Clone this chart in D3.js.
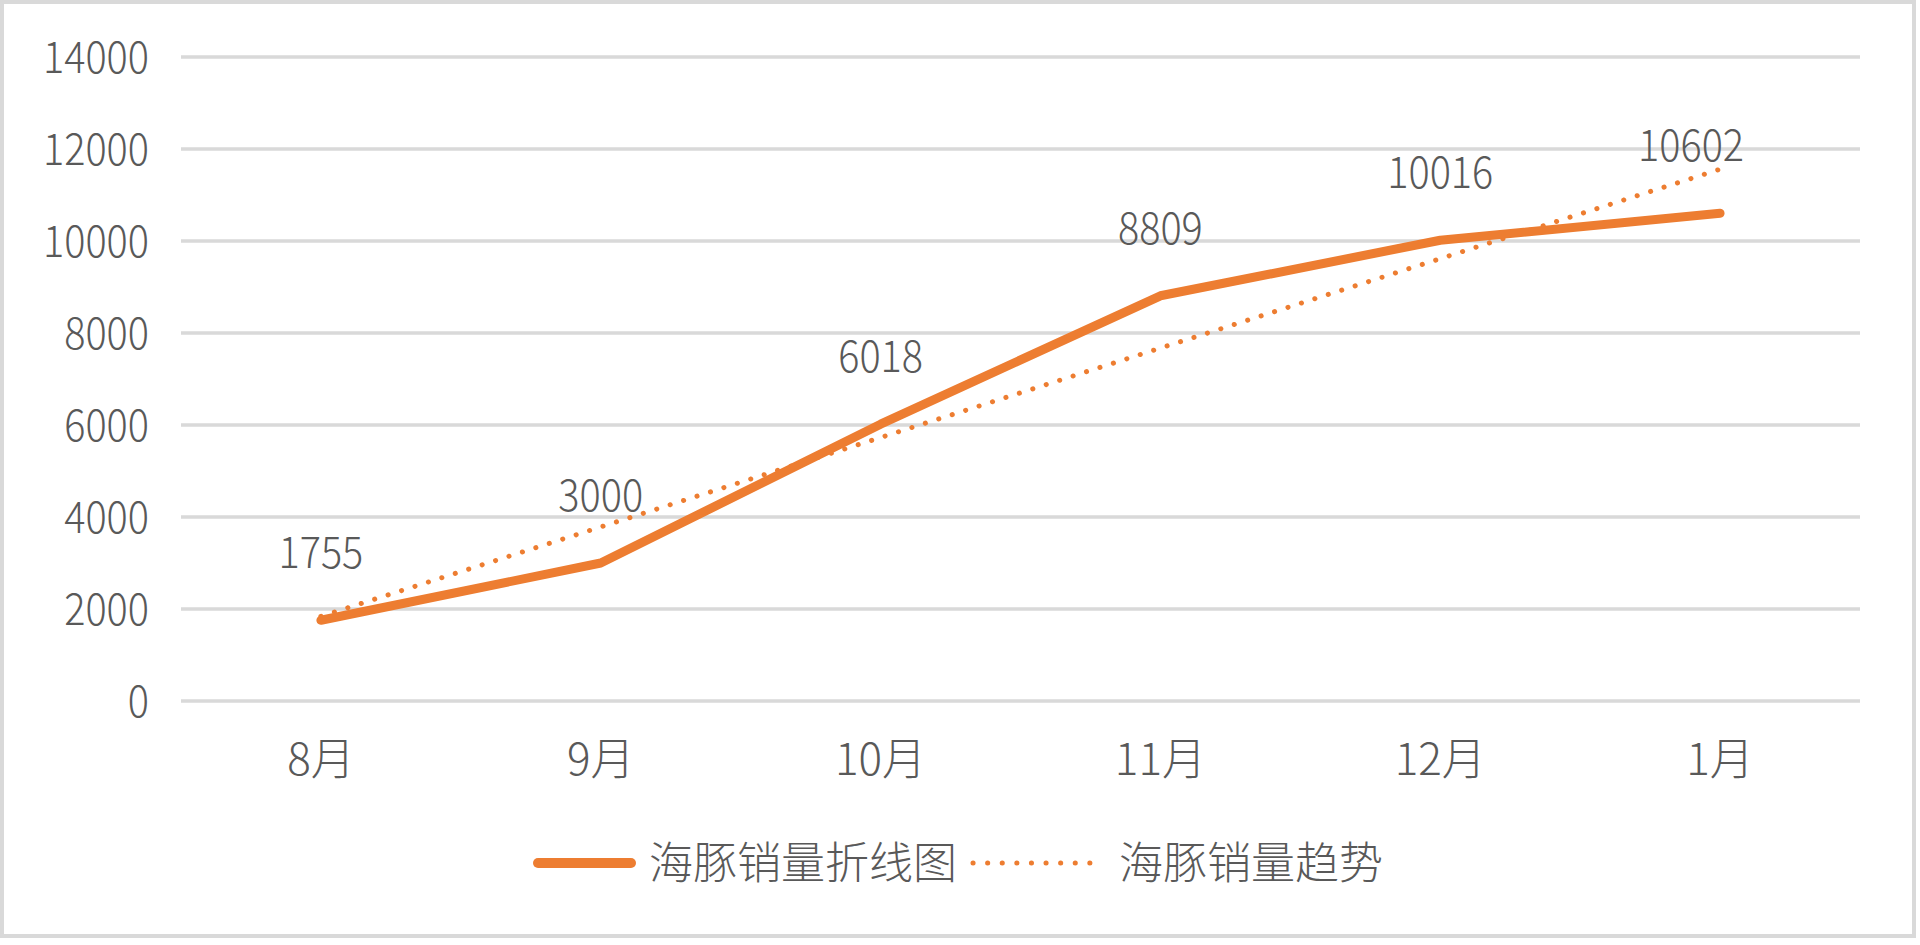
<!DOCTYPE html>
<html>
<head>
<meta charset="utf-8">
<script src="https://cdn.jsdelivr.net/npm/d3@7"></script>
<style>
  html, body { margin: 0; padding: 0; background: #fff; }
  svg text { font-family: 'Noto Sans CJK SC', 'Noto Sans', sans-serif; font-weight: 300; fill: #595959; }
</style>
</head>
<body>
<svg id="chart" width="1920" height="945"></svg>
<script>
// chart data
var months = ['8月', '9月', '10月', '11月', '12月', '1月'];
var sales = [1755, 3000, 6018, 8809, 10016, 10602];
var trendEnds = [1840, 11560]; // trend line at first / last month
var yTicks = [0, 2000, 4000, 6000, 8000, 10000, 12000, 14000];
var seriesNames = ['海豚销量折线图', '海豚销量趋势'];

var ORANGE = '#ed7d31', GRID = '#d9d9d9';
var fs = 44;

var svg = d3.select('#chart');

// numbers in the original font are narrower: squeeze them a bit
function narrow(sel) {
  sel.each(function() {
    var len = this.getComputedTextLength();
    d3.select(this)
      .attr('textLength', len * 0.9)
      .attr('lengthAdjust', 'spacingAndGlyphs');
  });
}

// outer frame
svg.append('rect')
  .attr('x', 2).attr('y', 2)
  .attr('width', 1912).attr('height', 934)
  .attr('fill', '#fff')
  .attr('stroke', GRID)
  .attr('stroke-width', 4);

var x = d3.scalePoint()
  .domain(months)
  .range([181, 1860])
  .padding(0.5);
var y = d3.scaleLinear()
  .domain([0, 14000])
  .range([701, 57]);

// gridlines
svg.append('g')
  .selectAll('line')
  .data(yTicks)
  .enter()
  .append('line')
  .attr('x1', 181).attr('x2', 1860)
  .attr('y1', function(d) { return y(d); })
  .attr('y2', function(d) { return y(d); })
  .attr('stroke', GRID)
  .attr('stroke-width', 3.5);

// y tick labels
svg.append('g')
  .selectAll('text')
  .data(yTicks)
  .enter()
  .append('text')
  .attr('x', 149)
  .attr('y', function(d) { return y(d); })
  .attr('dy', '0.36em')
  .attr('text-anchor', 'end')
  .style('font-size', fs + 'px')
  .text(function(d) { return d; })
  .call(narrow);

// x labels
svg.append('g')
  .selectAll('text')
  .data(months)
  .enter()
  .append('text')
  .attr('x', function(d) { return x(d); })
  .attr('y', 759)
  .attr('dy', '0.36em')
  .attr('text-anchor', 'middle')
  .style('font-size', fs + 'px')
  .text(function(d) { return d; });

// trend (dotted)
var trend = [
  { m: months[0], v: trendEnds[0] },
  { m: months[months.length - 1], v: trendEnds[1] }
];
var line = d3.line()
  .x(function(d) { return x(d.m); })
  .y(function(d) { return y(d.v); });

svg.append('path')
  .datum(trend)
  .attr('d', line)
  .attr('fill', 'none')
  .attr('stroke', ORANGE)
  .attr('stroke-width', 5)
  .attr('stroke-linecap', 'round')
  .attr('stroke-dasharray', '0.1 14');

// main series
var pts = months.map(function(m, i) { return { m: m, v: sales[i] }; });
svg.append('path')
  .datum(pts)
  .attr('d', line)
  .attr('fill', 'none')
  .attr('stroke', ORANGE)
  .attr('stroke-width', 9)
  .attr('stroke-linecap', 'round')
  .attr('stroke-linejoin', 'round');

// data labels (the last one is nudged left in the original)
svg.append('g')
  .selectAll('text')
  .data(pts)
  .enter()
  .append('text')
  .attr('x', function(d, i) { return x(d.m) + (i === pts.length - 1 ? -29 : 0); })
  .attr('y', function(d) { return y(d.v) - 68; })
  .attr('dy', '0.36em')
  .attr('text-anchor', 'middle')
  .style('font-size', fs + 'px')
  .text(function(d) { return d.v; })
  .call(narrow);

// legend, centred on the chart
var lg = svg.append('g');
var ly = 863;
var cx = 0;
var swatch = [103, 129];
seriesNames.forEach(function(name, i) {
  var g = lg.append('g');
  g.append('line')
    .attr('x1', cx + (i ? 4 : 5)).attr('x2', cx + swatch[i] - (i ? 4 : 5))
    .attr('y1', ly).attr('y2', ly)
    .attr('stroke', ORANGE)
    .attr('stroke-width', i ? 5 : 10)
    .attr('stroke-linecap', 'round')
    .attr('stroke-dasharray', i ? '0.1 14.5' : null);
  cx += swatch[i] + (i ? 21 : 13);
  var t = g.append('text')
    .attr('x', cx)
    .attr('y', ly)
    .attr('dy', '0.36em')
    .style('font-size', fs + 'px')
    .text(name);
  cx += t.node().getComputedTextLength() + 12;
});
var lw = cx - 12;
lg.attr('transform', 'translate(' + (958 - lw / 2) + ',0)');
</script>
</body>
</html>
